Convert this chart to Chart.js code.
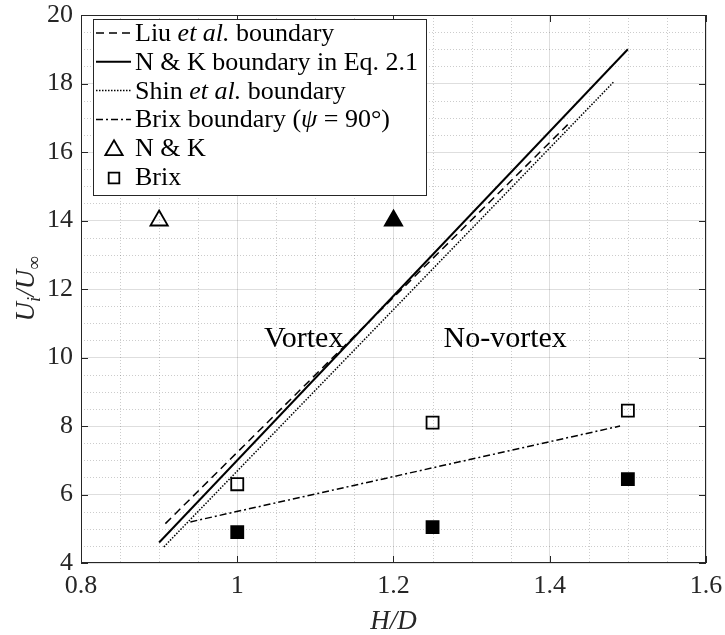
<!DOCTYPE html>
<html lang="en">

<head>
    <meta charset="UTF-8">
    <title>Vortex boundary</title>
    <style>
        body {
            margin: 0;
            background: #fff;
        }

        #chart {
            display: block;
        }
    </style>
    <script src="https://cdn.jsdelivr.net/npm/chart.js"></script>
</head>

<body>
    <canvas id="chart" width="725" height="635"></canvas>

    <script>
        // boundary lines (two end points each)
        const liuX = [0.908, 1.423];
        const liuY = [5.15, 16.8];
        const nkX = [0.9, 1.5];
        const nkY = [4.6, 19.0];
        const shinX = [0.906, 1.482];
        const shinY = [4.47, 18.05];
        const brixLineX = [0.94, 1.49];
        const brixLineY = [5.2, 8.0];

        // measured points
        const nkOpenX = [0.9];
        const nkOpenY = [14];
        const nkFilledX = [1.2];
        const nkFilledY = [14];
        const brixH = [1.0, 1.25, 1.5];
        const brixOpenU = [6.3, 8.1, 8.45];
        const brixFilledU = [4.9, 5.05, 6.45];

        // region labels
        const regionLabels = ['Vortex', 'No-vortex'];
        const regionX = [1.085, 1.343];
        const regionY = [10.55, 10.55];

        const xTicks = [0.8, 1, 1.2, 1.4, 1.6];
        const yTicks = [4, 6, 8, 10, 12, 14, 16, 18, 20];

        const serif = '"Liberation Serif", "Times New Roman", serif';
        const axisColor = '#262626';

        function pts(xs, ys) {
            return xs.map((x, i) => ({ x: x, y: ys[i] }));
        }

        function lineSet(label, xs, ys, dash, width) {
            return {
                label: label,
                data: pts(xs, ys),
                showLine: true,
                borderColor: '#000',
                borderWidth: width,
                borderDash: dash,
                pointRadius: 0,
                fill: false
            };
        }

        function markSet(label, xs, ys, style, radius, filled) {
            return {
                label: label,
                data: pts(xs, ys),
                showLine: false,
                pointStyle: style,
                pointRadius: radius,
                pointBorderWidth: 1.8,
                pointBorderColor: '#000',
                pointBackgroundColor: filled ? '#000' : 'rgba(0,0,0,0)',
                borderColor: '#000',
                backgroundColor: filled ? '#000' : 'rgba(0,0,0,0)'
            };
        }

        const datasets = [
            lineSet('Liu', liuX, liuY, [8, 5], 1.5),
            lineSet('NK', nkX, nkY, [], 2),
            lineSet('Shin', shinX, shinY, [1.5, 1.5], 1.5),
            lineSet('BrixLine', brixLineX, brixLineY, [7, 3, 2, 3], 1.5),
            markSet('NK open', nkOpenX, nkOpenY, 'triangle', 10, false),
            markSet('Brix open', brixH, brixOpenU, 'rect', 8.5, false),
            markSet('NK filled', nkFilledX, nkFilledY, 'triangle', 10, true),
            markSet('Brix filled', brixH, brixFilledU, 'rect', 8.5, true)
        ];

        // draw a list of text runs (normal / italic / subscript) starting at x
        function runWidth(ctx, run, size) {
            const s = run.sub ? size * 0.7 : size;
            ctx.font = (run.i ? 'italic ' : '') + s + 'px ' + serif;
            return ctx.measureText(run.t).width;
        }

        function drawRuns(ctx, runs, x, y, size, align) {
            let total = 0;
            runs.forEach(r => { total += runWidth(ctx, r, size); });
            let cx = align === 'center' ? x - total / 2 : x;
            ctx.textAlign = 'left';
            ctx.textBaseline = 'alphabetic';
            runs.forEach(r => {
                const w = runWidth(ctx, r, size);
                ctx.fillText(r.t, cx, y + (r.sub ? size * 0.22 : 0));
                cx += w;
            });
        }

        const minorGrid = {
            id: 'minorGrid',
            beforeDatasetsDraw(chart) {
                const { ctx, chartArea: a, scales } = chart;
                ctx.save();
                ctx.strokeStyle = 'rgba(0,0,0,0.2)';
                ctx.lineWidth = 1;
                ctx.setLineDash([1, 2]);
                for (let k = 1; k < 16; k++) {
                    if (k % 4 === 0) continue;
                    const px = Math.round(scales.x.getPixelForValue(0.8 + k * 0.05)) + 0.5;
                    ctx.beginPath();
                    ctx.moveTo(px, a.top);
                    ctx.lineTo(px, a.bottom);
                    ctx.stroke();
                }
                for (let k = 1; k < 32; k++) {
                    if (k % 4 === 0) continue;
                    const py = Math.round(scales.y.getPixelForValue(4 + k * 0.5)) + 0.5;
                    ctx.beginPath();
                    ctx.moveTo(a.left, py);
                    ctx.lineTo(a.right, py);
                    ctx.stroke();
                }
                ctx.restore();
            }
        };

        const decorations = {
            id: 'decorations',
            afterDatasetsDraw(chart) {
                const { ctx, chartArea: a, scales } = chart;
                ctx.save();

                // region labels
                ctx.fillStyle = '#000';
                ctx.font = '30px ' + serif;
                ctx.textAlign = 'center';
                ctx.textBaseline = 'middle';
                regionLabels.forEach((t, i) => {
                    ctx.fillText(t, scales.x.getPixelForValue(regionX[i]), scales.y.getPixelForValue(regionY[i]));
                });

                // axes box with inward ticks
                ctx.strokeStyle = axisColor;
                ctx.lineWidth = 1;
                ctx.setLineDash([]);
                ctx.strokeRect(a.left + 0.5, a.top + 0.5, a.right - a.left - 1, a.bottom - a.top - 1);
                const tl = 7;
                ctx.beginPath();
                xTicks.forEach(v => {
                    const px = Math.round(scales.x.getPixelForValue(v)) + 0.5;
                    ctx.moveTo(px, a.bottom); ctx.lineTo(px, a.bottom - tl);
                    ctx.moveTo(px, a.top); ctx.lineTo(px, a.top + tl);
                });
                yTicks.forEach(v => {
                    const py = Math.round(scales.y.getPixelForValue(v)) + 0.5;
                    ctx.moveTo(a.left, py); ctx.lineTo(a.left + tl, py);
                    ctx.moveTo(a.right, py); ctx.lineTo(a.right - tl, py);
                });
                ctx.stroke();

                // axis titles
                ctx.fillStyle = axisColor;
                drawRuns(ctx, [{ t: 'H/D', i: true }], (a.left + a.right) / 2, 629, 27, 'center');
                ctx.save();
                ctx.translate(34, (a.top + a.bottom) / 2);
                ctx.rotate(-Math.PI / 2);
                drawRuns(ctx, [
                    { t: 'U', i: true }, { t: 'i', i: true, sub: true },
                    { t: '/U', i: true }, { t: '\u221E', sub: true }
                ], 0, 0, 27, 'center');
                ctx.restore();

                // legend
                const bx = a.left + 12, by = a.top + 4, bw = 333, bh = 176;
                ctx.fillStyle = '#fff';
                ctx.fillRect(bx, by, bw, bh);
                ctx.strokeStyle = axisColor;
                ctx.strokeRect(bx + 0.5, by + 0.5, bw, bh);

                const entries = [
                    { ds: 0, runs: [{ t: 'Liu ' }, { t: 'et al.', i: true }, { t: ' boundary' }] },
                    { ds: 1, runs: [{ t: 'N & K boundary in Eq. 2.1' }] },
                    { ds: 2, runs: [{ t: 'Shin ' }, { t: 'et al.', i: true }, { t: ' boundary' }] },
                    { ds: 3, runs: [{ t: 'Brix boundary (' }, { t: '\u03C8', i: true }, { t: ' = 90\u00B0)' }] },
                    { ds: 4, runs: [{ t: 'N & K' }] },
                    { ds: 5, runs: [{ t: 'Brix' }] }
                ];
                entries.forEach((e, i) => {
                    const ds = chart.data.datasets[e.ds];
                    const ry = by + 14 + i * 28.8;
                    if (ds.showLine) {
                        ctx.save();
                        ctx.strokeStyle = '#000';
                        ctx.lineWidth = ds.borderWidth;
                        ctx.setLineDash(ds.borderDash);
                        ctx.beginPath();
                        ctx.moveTo(bx + 3, ry);
                        ctx.lineTo(bx + 38, ry);
                        ctx.stroke();
                        ctx.restore();
                    } else {
                        const tri = ds.pointStyle === 'triangle';
                        ctx.save();
                        ctx.strokeStyle = '#000';
                        ctx.fillStyle = 'rgba(0,0,0,0)';
                        ctx.lineWidth = ds.pointBorderWidth;
                        Chart.helpers.drawPoint(ctx, {
                            pointStyle: ds.pointStyle,
                            rotation: 0,
                            radius: tri ? 10 : 7.5,
                            borderWidth: ds.pointBorderWidth
                        }, bx + 21, ry + (tri ? 2 : 1));
                        ctx.restore();
                    }
                    ctx.fillStyle = '#000';
                    drawRuns(ctx, e.runs, bx + 42, ry + 8, 26, 'left');
                });

                ctx.restore();
            }
        };

        const tickFont = { family: serif, size: 26 };

        new Chart(document.getElementById('chart'), {
            type: 'scatter',
            data: { datasets: datasets },
            options: {
                responsive: false,
                animation: false,
                layout: { padding: { top: 15, right: 19, left: 0, bottom: 0 } },
                plugins: {
                    legend: { display: false },
                    tooltip: { enabled: false }
                },
                scales: {
                    x: {
                        type: 'linear',
                        min: 0.8,
                        max: 1.6,
                        afterFit(scale) {
                            scale.height = 72;
                            scale.paddingLeft = 0;
                            scale.paddingRight = 0;
                        },
                        afterBuildTicks(scale) { scale.ticks = xTicks.map(v => ({ value: v })); },
                        ticks: {
                            font: tickFont,
                            color: axisColor,
                            padding: 8,
                            maxRotation: 0,
                            callback: v => String(+v.toFixed(2))
                        },
                        grid: { color: 'rgba(0,0,0,0.13)', drawTicks: false },
                        border: { display: false }
                    },
                    y: {
                        type: 'linear',
                        min: 4,
                        max: 20,
                        afterFit(scale) {
                            scale.width = 81;
                            scale.paddingTop = 0;
                            scale.paddingBottom = 0;
                        },
                        afterBuildTicks(scale) { scale.ticks = yTicks.map(v => ({ value: v })); },
                        ticks: {
                            font: tickFont,
                            color: axisColor,
                            padding: 8,
                            callback: v => String(+v.toFixed(2))
                        },
                        grid: { color: 'rgba(0,0,0,0.13)', drawTicks: false },
                        border: { display: false }
                    }
                }
            },
            plugins: [minorGrid, decorations]
        });
    </script>
</body>

</html>
